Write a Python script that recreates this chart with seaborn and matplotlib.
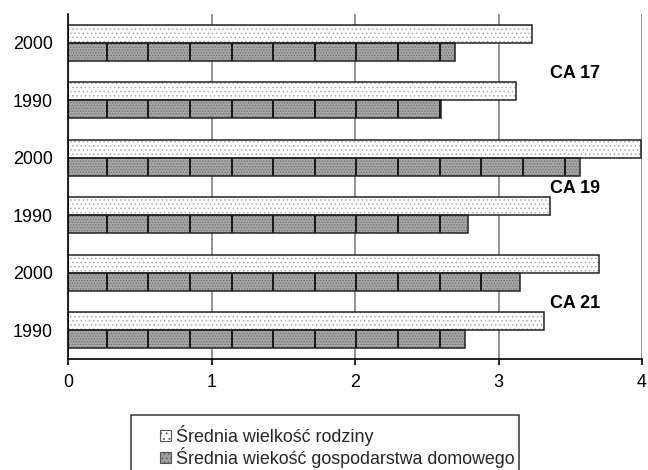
import numpy as np
import pandas as pd
import seaborn as sns
import matplotlib.pyplot as plt
from matplotlib.patches import Patch, Rectangle
from matplotlib.collections import LineCollection

# Household statistics per census area and year
regions = ["CA 17", "CA 17", "CA 19", "CA 19", "CA 21", "CA 21"]
years = ["2000", "1990", "2000", "1990", "2000", "1990"]
family_size = [3.23, 3.12, 3.99, 3.36, 3.70, 3.32]
household_size = [2.70, 2.60, 3.57, 2.79, 3.15, 2.77]
series_names = ["Średnia wielkość rodziny", "Średnia wiekość gospodarstwa domowego"]
x_ticks = [0, 1, 2, 3, 4]

sns.set_theme(style="white")
plt.rcParams["font.family"] = ["Liberation Sans", "DejaVu Sans"]
plt.rcParams["hatch.linewidth"] = 0.6

rows = [f"{r} {y}" for r, y in zip(regions, years)]
df = pd.DataFrame({
    "row": rows * 2,
    "series": [series_names[0]] * len(rows) + [series_names[1]] * len(rows),
    "value": family_size + household_size,
})

fig = plt.figure(figsize=(6.48, 4.70), dpi=100)
ax = fig.add_axes([68 / 648, 1 - 359 / 470, (642 - 68) / 648, (359 - 14) / 470])

light_face, light_dots = "white", "#a8a8a8"
dark_face, dark_tex = "#a6a6a6", "#6e6e6e"
fs = 12.9

sns.barplot(data=df, x="value", y="row", hue="series", orient="h",
            order=rows, hue_order=series_names,
            palette=[light_face, dark_face], saturation=1, width=0.62,
            linewidth=0, legend=False, ax=ax)

ax.set_axisbelow(True)
ax.xaxis.grid(True, color="#808080", lw=1.2)
ax.yaxis.grid(False)

# textures and outlines on the bars
for p in ax.containers[0]:
    p.set_hatch("....")
    p.set_edgecolor(light_dots)
    p.set_linewidth(0)
for p in ax.containers[1]:
    p.set_hatch("......")
    p.set_edgecolor(dark_tex)
    p.set_linewidth(0)
    x0, y0, w, h = p.get_x(), p.get_y(), p.get_width(), p.get_height()
    xs = np.arange(0.27, x0 + w, 0.29)
    segs = [[(x, y0), (x, y0 + h)] for x in xs]
    lc = LineCollection(segs, colors="black", linewidths=1.2, zorder=p.get_zorder() + 0.1)
    lc.set_clip_path(p)
    ax.add_collection(lc)
for cont in ax.containers:
    for p in cont:
        ax.add_patch(Rectangle((p.get_x(), p.get_y()), p.get_width(), p.get_height(),
                               fill=False, edgecolor="#222222", lw=1.1,
                               zorder=p.get_zorder() + 0.2))

ax.set_xlim(0, 4)
ax.set_xticks(x_ticks)
ax.set_xticklabels([str(t) for t in x_ticks])
ax.set_yticks(range(len(rows)))
ax.set_yticklabels(years)
ax.set_xlabel("")
ax.set_ylabel("")

for s in ["top", "right"]:
    ax.spines[s].set_visible(False)
for s in ["left", "bottom"]:
    ax.spines[s].set_color("black")
    ax.spines[s].set_linewidth(1.2)

ax.tick_params(axis="x", length=4, width=1.2, color="black", direction="out",
               pad=7, labelsize=fs, labelcolor="black", bottom=True)
ax.tick_params(axis="y", length=0, pad=11, labelsize=fs, labelcolor="black")

# area labels between the two year rows of each group
for k, name in enumerate(dict.fromkeys(regions)):
    ax.text(3.36, 2 * k + 0.53, name, fontsize=fs, fontweight="bold",
            va="center", ha="left", color="black")

# legend with a frame that runs off the bottom edge
fig.add_artist(Rectangle((131 / 648, -0.1), (519 - 131) / 648, (1 - 415 / 470) + 0.1,
                         transform=fig.transFigure, fill=False,
                         edgecolor="#333333", lw=1.1))
handles = [
    Patch(facecolor=light_face, edgecolor="#555555", hatch="...", lw=0.8),
    Patch(facecolor="#a0a0a0", edgecolor="#555555", hatch="....", lw=0.8),
]
fig.legend(handles, series_names, loc="upper left",
           bbox_to_anchor=(160 / 648, 1 - 425 / 470), frameon=False,
           borderpad=0, borderaxespad=0, handlelength=0.62, handleheight=0.62,
           handletextpad=0.3, labelspacing=0.05, fontsize=fs)

fig.savefig("out.png", dpi=100)
